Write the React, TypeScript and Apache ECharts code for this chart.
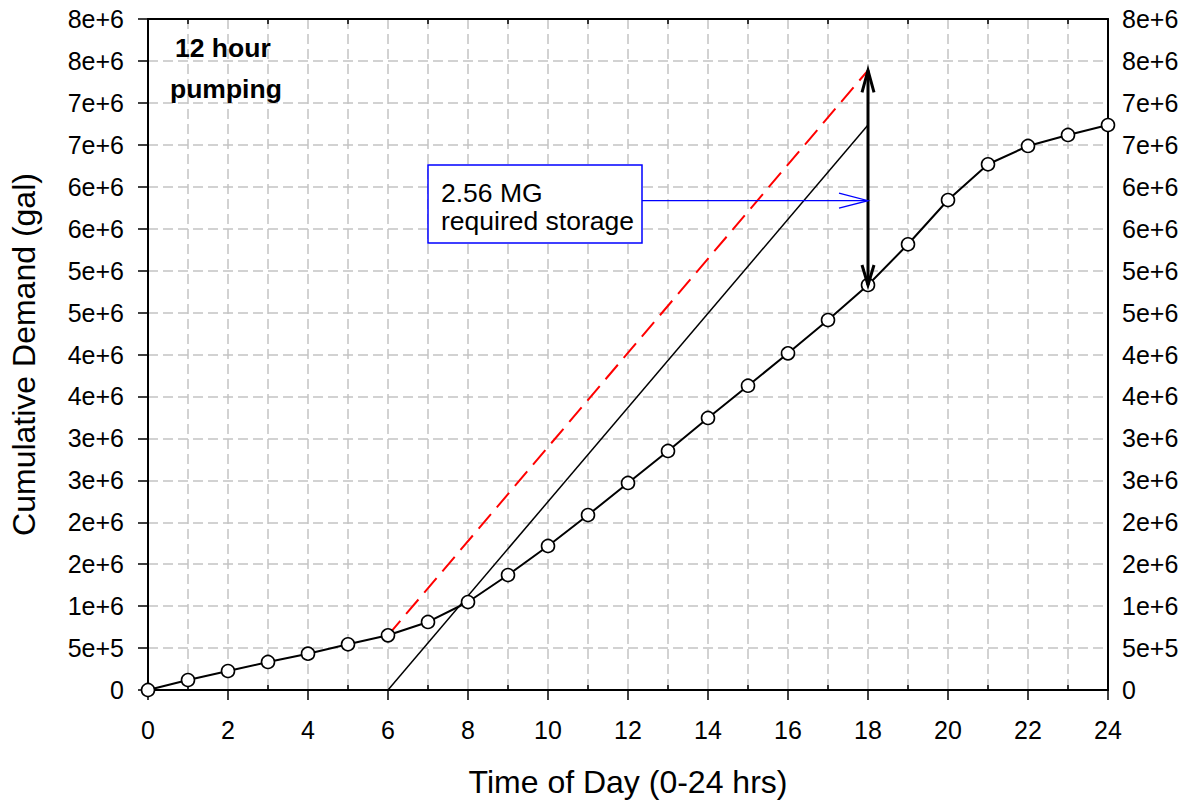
import React, { useEffect, useRef } from "react";
import * as echarts from "echarts";

// ---- data ----
const HOURS = [0, 1, 2, 3, 4, 5, 6, 7, 8, 9, 10, 11, 12, 13, 14, 15, 16, 17, 18, 19, 20, 21, 22, 23, 24];
const DEMAND = [
  0, 119000, 226000, 334000, 433000, 545000, 652000, 811000, 1049000, 1371000,
  1717000, 2086000, 2468000, 2850000, 3243000, 3628000, 4014000, 4411000, 4829000,
  5314000, 5842000, 6268000, 6486000, 6617000, 6736000,
];
// 12 hour pumping line (6:00 to 18:00)
const PUMP_LINE = [
  [6, 0],
  [18, 6736000],
];
// same pumping rate, started from the demand at 6:00
const PUMP_SHIFTED = [
  [6, 652000],
  [18, 7388000],
];
// required storage double arrow at 18:00
const STORAGE_ARROW = [
  [18, 4829000],
  [18, 7388000],
];
// blue pointer from the annotation box to the storage arrow
const POINTER = [
  [12.35, 5834000],
  [18, 5834000],
];
const Y_TICK_LABELS = [
  "0", "5e+5", "1e+6", "2e+6", "2e+6", "3e+6", "3e+6", "4e+6", "4e+6",
  "5e+6", "5e+6", "6e+6", "6e+6", "7e+6", "7e+6", "8e+6", "8e+6",
];
const X_MIN = 0;
const X_MAX = 24;
const X_STEP = 2;
const Y_MIN = 0;
const Y_MAX = 8000000;
const Y_STEP = 500000;

const FONT = '"Liberation Sans", Arial, Helvetica, sans-serif';
const GRID_COLOR = "#c3c3c3";

export default function App() {
  const ref = useRef<HTMLDivElement>(null);

  useEffect(() => {
    if (!ref.current) return;
    const chart = echarts.init(ref.current, undefined, { renderer: "svg" });

    const yLabel = (v: number) => {
      const i = Math.round(v / Y_STEP);
      return Y_TICK_LABELS[i] ?? "";
    };

    const splitStyle = { color: GRID_COLOR, width: 1.5, type: [10, 5] as any };

    const option: any = {
      animation: false,
      backgroundColor: "#fff",
      grid: { left: 148, right: 80, top: 19, bottom: 113, containLabel: false },
      xAxis: [
        {
          type: "value",
          min: X_MIN,
          max: X_MAX,
          interval: X_STEP,
          position: "bottom",
          name: "Time of Day (0-24 hrs)",
          nameLocation: "middle",
          nameGap: 76,
          nameTextStyle: { fontSize: 32, fontFamily: FONT, color: "#000" },
          axisLine: { show: true, onZero: false, lineStyle: { color: "#000", width: 2 } },
          axisTick: { show: true, inside: false, length: 10, lineStyle: { color: "#000", width: 1.5 } },
          axisLabel: { show: true, margin: 27, fontSize: 25, fontFamily: FONT, color: "#000" },
          splitLine: { show: true, lineStyle: splitStyle },
          minorTick: { show: false, splitNumber: 2 },
          minorSplitLine: { show: true, lineStyle: splitStyle },
        },
        {
          type: "value",
          min: X_MIN,
          max: X_MAX,
          interval: X_STEP,
          position: "bottom",
          axisLine: { show: false, onZero: false },
          axisTick: { show: false, inside: true },
          axisLabel: { show: false },
          splitLine: { show: false },
          minorTick: { show: true, splitNumber: 2, length: 5, lineStyle: { color: "#000", width: 1.5 } },
        },
        {
          type: "value",
          min: X_MIN,
          max: X_MAX,
          interval: X_STEP,
          position: "top",
          axisLine: { show: true, onZero: false, lineStyle: { color: "#000", width: 2 } },
          axisTick: { show: false, inside: true },
          axisLabel: { show: false },
          splitLine: { show: false },
          minorTick: { show: true, splitNumber: 2, length: 5, lineStyle: { color: "#000", width: 1.5 } },
        },
      ],
      yAxis: [
        {
          type: "value",
          min: Y_MIN,
          max: Y_MAX,
          interval: Y_STEP,
          position: "left",
          name: "Cumulative Demand (gal)",
          nameLocation: "middle",
          nameGap: 108,
          nameTextStyle: { fontSize: 32, fontFamily: FONT, color: "#000" },
          axisLine: { show: true, onZero: false, lineStyle: { color: "#000", width: 2 } },
          axisTick: { show: true, inside: false, length: 10, lineStyle: { color: "#000", width: 1.5 } },
          axisLabel: { show: true, margin: 24, fontSize: 25, fontFamily: FONT, color: "#000", formatter: yLabel },
          splitLine: { show: true, lineStyle: splitStyle },
        },
        {
          type: "value",
          min: Y_MIN,
          max: Y_MAX,
          interval: Y_STEP,
          position: "right",
          axisLine: { show: true, onZero: false, lineStyle: { color: "#000", width: 2 } },
          axisTick: { show: false },
          axisLabel: { show: true, margin: 14, fontSize: 25, fontFamily: FONT, color: "#000", formatter: yLabel },
          splitLine: { show: false },
        },
      ],
      series: [
        {
          name: "pumping",
          type: "line",
          xAxisIndex: 0,
          yAxisIndex: 0,
          data: PUMP_LINE,
          symbol: "none",
          lineStyle: { color: "#000", width: 1.5 },
          z: 3,
          silent: true,
        },
        {
          name: "pumping shifted",
          type: "line",
          xAxisIndex: 0,
          yAxisIndex: 0,
          data: PUMP_SHIFTED,
          symbol: "none",
          lineStyle: { color: "#ff0000", width: 2, type: [19, 9] },
          z: 3,
          silent: true,
        },
        {
          name: "Cumulative Demand",
          type: "line",
          xAxisIndex: 0,
          yAxisIndex: 0,
          data: HOURS.map((h, i) => [h, DEMAND[i]]),
          symbol: "circle",
          symbolSize: 13,
          showSymbol: true,
          showAllSymbol: true,
          lineStyle: { color: "#000", width: 2 },
          itemStyle: { color: "#fff", borderColor: "#000", borderWidth: 1.6 },
          z: 5,
          silent: true,
        },
        {
          name: "annotations",
          type: "custom",
          xAxisIndex: 0,
          yAxisIndex: 0,
          data: [[STORAGE_ARROW[0][0], STORAGE_ARROW[0][1]]],
          encode: { x: 0, y: 1 },
          clip: false,
          silent: true,
          z: 6,
          renderItem: (_params: any, api: any) => {
            const b = api.coord(STORAGE_ARROW[0]);
            const t = api.coord(STORAGE_ARROW[1]);
            const p0 = api.coord(POINTER[0]);
            const p1 = api.coord(POINTER[1]);
            const black = { stroke: "#000", lineWidth: 3, fill: "none", lineJoin: "miter", lineCap: "butt" };
            const blue = { stroke: "#0000ff", lineWidth: 1.3, fill: "none", lineJoin: "miter" };
            return {
              type: "group",
              children: [
                { type: "line", shape: { x1: b[0], y1: b[1], x2: t[0], y2: t[1] }, style: black },
                {
                  type: "polyline",
                  shape: { points: [[t[0] - 6, t[1] + 22], [t[0], t[1]], [t[0] + 6, t[1] + 22]] },
                  style: black,
                },
                {
                  type: "polyline",
                  shape: { points: [[b[0] - 6, b[1] - 20], [b[0], b[1]], [b[0] + 6, b[1] - 20]] },
                  style: black,
                },
                { type: "line", shape: { x1: p0[0], y1: p0[1], x2: p1[0], y2: p1[1] }, style: blue },
                {
                  type: "polyline",
                  shape: { points: [[p1[0] - 29, p1[1] - 7.5], [p1[0], p1[1]], [p1[0] - 29, p1[1] + 7.5]] },
                  style: blue,
                },
              ],
            };
          },
        },
      ],
      graphic: [
        {
          type: "rect",
          z: 10,
          shape: { x: 428, y: 165, width: 214, height: 78 },
          style: { fill: "#fff", stroke: "#0000ff", lineWidth: 1.5 },
          silent: true,
        },
        {
          type: "text",
          z: 11,
          x: 441,
          y: 192.5,
          style: { text: "2.56 MG", fontSize: 26.5, fontFamily: FONT, fill: "#000", align: "left", verticalAlign: "middle" },
          silent: true,
        },
        {
          type: "text",
          z: 11,
          x: 441,
          y: 221,
          style: { text: "required storage", fontSize: 26.5, fontFamily: FONT, fill: "#000", align: "left", verticalAlign: "middle" },
          silent: true,
        },
        {
          type: "text",
          z: 11,
          x: 175,
          y: 48,
          style: { text: "12 hour", fontSize: 26.5, fontWeight: "bold", fontFamily: FONT, fill: "#000", align: "left", verticalAlign: "middle" },
          silent: true,
        },
        {
          type: "text",
          z: 11,
          x: 170,
          y: 89,
          style: { text: "pumping", fontSize: 26.5, fontWeight: "bold", fontFamily: FONT, fill: "#000", align: "left", verticalAlign: "middle" },
          silent: true,
        },
      ],
    };

    chart.setOption(option);
    return () => chart.dispose();
  }, []);

  return (
    <div
      ref={ref}
      style={{ position: "fixed", left: 0, top: 0, width: 1188, height: 803, background: "#fff" }}
    />
  );
}
